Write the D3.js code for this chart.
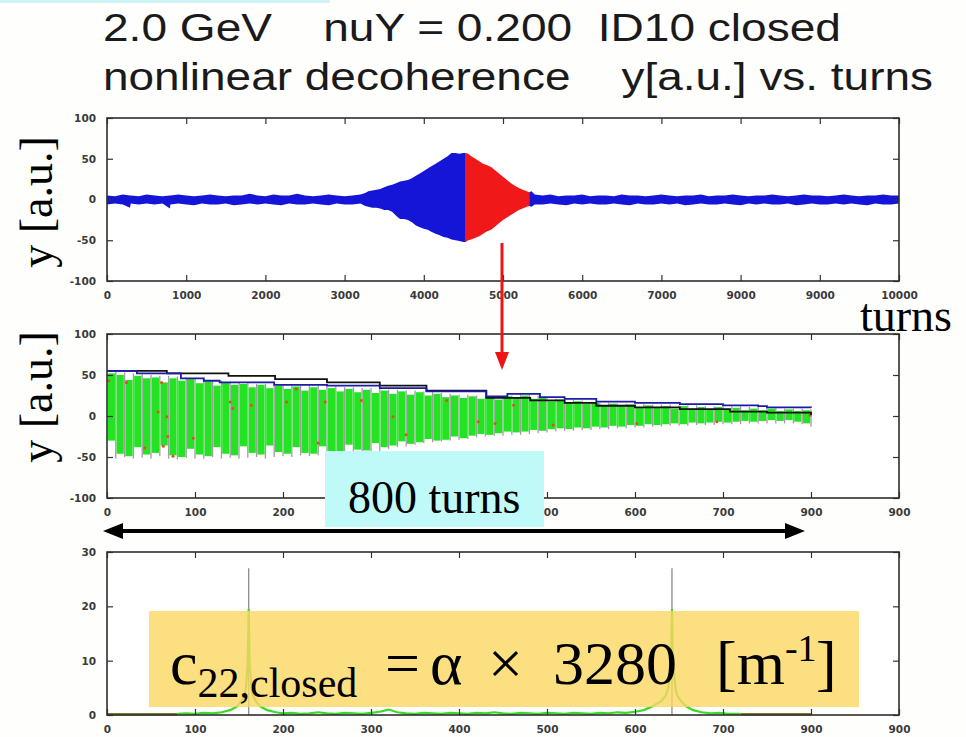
<!DOCTYPE html>
<html>
<head>
<meta charset="utf-8">
<script src="https://cdn.jsdelivr.net/npm/d3@7"></script>
<style>
  html, body { margin: 0; padding: 0; background: #fefefd; }
  svg { display: block; }
  .tick text { font-family: "DejaVu Sans", sans-serif; font-weight: bold; font-size: 10.5px; fill: #3a3a3a; }
  .tick line { stroke: #333; stroke-width: 1.2; }
</style>
</head>
<body>
<svg id="chart" width="966" height="737"></svg>
<script>
// ---------------- data ----------------
const titleLine1 = "2.0 GeV\u00A0\u00A0\u00A0 nuY = 0.200\u00A0 ID10 closed";
const titleLine2 = "nonlinear decoherence\u00A0\u00A0\u00A0 y[a.u.] vs. turns";
const yLabel = "y [a.u.]";
const turnsLabel = "turns";
const spanLabel = "800 turns";

// top panel: tick values and their printed labels
const topXTicks  = [0, 1000, 2000, 3000, 4000, 5000, 6000, 7000, 8000, 9000, 10000];
const topXLabels = ["0", "1000", "2000", "3000", "4000", "5000", "6000", "7000", "9000", "9000", "10000"];
const auYTicks   = [-100, -50, 0, 50, 100];
const auYLabels  = ["-100", "-50", "0", "50", "100"];

// middle / bottom panels: tick values and labels
const turnXTicks  = [0, 100, 200, 300, 400, 500, 600, 700, 800, 900];
const turnXLabels = ["0", "100", "200", "300", "400", "500", "600", "700", "900", "900"];
// in the middle panel the 300 and 400 labels sit under the span box
const midXLabels  = ["0", "100", "200", "", "", "500", "600", "700", "900", "900"];
const specYTicks  = [0, 10, 20, 30];
const specYLabels = ["0", "10", "20", "30"];

// top panel: oscillation band (upper / lower edge) before the kick region
const bandATurns = [0, 100, 200, 290, 300, 400, 500, 600, 700, 795, 800,
  900, 1000, 1100, 1200, 1300, 1400, 1500, 1600, 1700, 1800, 1900, 2000,
  2100, 2200, 2300, 2400, 2500, 2600, 2700, 2800, 2900, 3000, 3100, 3200,
  3260, 3300, 3350, 3400, 3450, 3500, 3550, 3600, 3650, 3700, 3750, 3800,
  3850, 3900, 3950, 4000, 4050, 4100, 4150, 4200, 4250, 4300, 4350, 4400,
  4450, 4500, 4530];
const bandAHi = [5, 4, 6, 5, 5, 4, 6, 5, 4, 5, 5,
  6, 5, 4, 5, 6, 5, 4, 5, 5, 7, 5, 4,
  6, 5, 5, 7, 5, 4, 5, 6, 5, 4, 5, 6,
  8, 10, 11, 12, 13, 15, 17, 18, 20, 22, 23, 24,
  26, 29, 32, 35, 38, 41, 44, 47, 50, 53, 57, 57,
  56, 57, 57];
const bandALo = [-6, -5, -6, -10, -5, -6, -5, -6, -5, -11, -6,
  -5, -6, -7, -5, -6, -6, -5, -7, -6, -5, -6, -5,
  -6, -7, -5, -6, -6, -5, -6, -7, -5, -6, -6, -5,
  -8, -9, -10, -10, -11, -13, -13, -15, -20, -24, -24, -25,
  -28, -32, -34, -36, -37, -40, -42, -44, -46, -47, -49, -50,
  -51, -52, -52];

// top panel: the selected 800-turn window (drawn in red)
const bandRTurns = [4530, 4560, 4600, 4650, 4700, 4750, 4800, 4850, 4900,
  4950, 5000, 5050, 5100, 5150, 5200, 5250, 5300, 5330];
const bandRHi = [57, 56, 53, 50, 47, 44, 42, 40, 36, 32, 28, 24, 20, 17, 14, 12, 10, 9];
const bandRLo = [-52, -50, -49, -47, -45, -42, -39, -37, -33, -29, -25, -22, -19, -16, -13, -11, -9, -8];

// top panel: band after the window
const bandBTurns = [5330, 5360, 5400,
  5500, 5600, 5700, 5800, 5900, 6000, 6100, 6200, 6300, 6400,
  6500, 6600, 6700, 6800, 6900, 7000, 7100, 7200, 7300, 7400,
  7500, 7600, 7700, 7800, 7900, 8000, 8100, 8200, 8300, 8400,
  8500, 8600, 8700, 8800, 8900, 9000, 9100, 9200, 9300, 9400,
  9500, 9600, 9700, 9800, 9900, 10000];
const bandBHi = [9, 10, 6,
  5, 6, 4, 5, 5, 6, 4, 5, 5, 4,
  6, 5, 5, 4, 5, 6, 5, 4, 5, 5,
  6, 4, 5, 5, 6, 5, 4, 5, 5, 6,
  5, 4, 5, 6, 5, 5, 4, 5, 6, 5,
  4, 5, 5, 6, 5, 5];
const bandBLo = [-8, -9, -6,
  -6, -5, -6, -7, -5, -6, -5, -6, -6, -5,
  -6, -7, -5, -6, -6, -5, -6, -5, -7, -6,
  -5, -6, -6, -5, -6, -7, -5, -6, -5, -6,
  -6, -5, -7, -6, -5, -6, -6, -5, -6, -5,
  -6, -7, -5, -6, -6, -5];

// middle panel: turn-by-turn signal, one entry per 10-turn group
const midTurns = [5, 15, 25, 35, 45, 55, 65, 75, 85, 95,
  105, 115, 125, 135, 145, 155, 165, 175, 185, 195,
  205, 215, 225, 235, 245, 255, 265, 275, 285, 295,
  305, 315, 325, 335, 345, 355, 365, 375, 385, 395,
  405, 415, 425, 435, 445, 455, 465, 475, 485, 495,
  505, 515, 525, 535, 545, 555, 565, 575, 585, 595,
  605, 615, 625, 635, 645, 655, 665, 675, 685, 695,
  705, 715, 725, 735, 745, 755, 765, 775, 785, 795];
const greenHi = [52, 50, 44, 49, 46, 47, 41, 46, 43, 45,
  40, 42, 37, 41, 38, 39, 35, 38, 34, 37,
  33, 36, 31, 35, 32, 34, 30, 33, 29, 32,
  28, 31, 27, 30, 26, 29, 25, 27, 23, 25,
  22, 24, 21, 23, 20, 24, 22, 25, 21, 22,
  18, 20, 17, 18, 15, 16, 13, 15, 12, 14,
  11, 13, 10, 12, 9, 12, 9, 11, 8, 11,
  8, 10, 7, 9, 7, 9, 6, 8, 6, 7];
const greenLo = [-30, -46, -49, -38, -47, -45, -36, -48, -50, -40,
  -47, -49, -38, -46, -48, -37, -45, -47, -36, -44,
  -46, -38, -45, -46, -37, -43, -44, -35, -41, -42,
  -33, -38, -36, -31, -34, -32, -28, -30, -29, -25,
  -27, -24, -22, -23, -21, -19, -20, -19, -17, -18,
  -16, -15, -16, -14, -15, -13, -14, -12, -13, -11,
  -12, -10, -11, -10, -9, -10, -8, -9, -8, -7,
  -8, -7, -6, -7, -6, -5, -6, -5, -7, -9];
const grayTurns = [10, 20, 30, 40, 50, 60, 70, 80, 90, 100,
  110, 120, 130, 140, 150, 160, 170, 180, 190, 200,
  210, 220, 230, 240, 250, 260, 270, 280, 290, 300,
  310, 320, 330, 340, 350, 360, 370, 380, 390, 400,
  410, 420, 430, 440, 450, 460, 470, 480, 490, 500,
  510, 520, 530, 540, 550, 560, 570, 580, 590, 600,
  610, 620, 630, 640, 650, 660, 670, 680, 690, 700,
  710, 720, 730, 740, 750, 760, 770, 780, 790, 800];
const grayHi = [54, 53, 52, 51, 50, 49, 49, 48, 47, 46,
  45, 43, 43, 42, 41, 40, 39, 39, 38, 38,
  37, 37, 37, 37, 36, 36, 35, 35, 34, 34,
  33, 32, 32, 31, 31, 30, 29, 28, 27, 26,
  26, 25, 24, 24, 23, 25, 26, 26, 25, 23,
  21, 21, 20, 19, 17, 16, 16, 15, 15, 15,
  15, 14, 14, 14, 13, 13, 13, 12, 12, 12,
  12, 12, 11, 11, 11, 10, 9, 9, 9, 8];
const grayLo = [-52, -50, -52, -51, -52, -49, -52, -53, -51, -52,
  -52, -50, -52, -51, -52, -51, -50, -52, -50, -49,
  -50, -48, -49, -48, -47, -47, -46, -44, -45, -43,
  -43, -40, -38, -37, -35, -33, -32, -31, -30, -29,
  -28, -26, -25, -24, -24, -23, -23, -22, -21, -20,
  -19, -18, -18, -17, -17, -16, -16, -15, -15, -14,
  -14, -13, -13, -12, -12, -12, -11, -11, -11, -10,
  -10, -10, -9, -9, -9, -9, -9, -9, -10, -13];

// middle panel: envelope estimates (step lines)
const blueEnvTurns = [0, 34, 84, 110, 128, 190, 250, 310, 363, 431, 455, 492, 520, 556, 600, 651, 700, 740, 750, 800];
const blueEnvVals  = [55, 52, 46, 43, 41, 38, 37, 34, 30, 24, 27, 23, 21, 17.5, 16, 14.5, 13, 12, 10.5, 10];
const blackEnvTurns = [0, 68, 138, 191, 250, 310, 363, 431, 481, 520, 556, 600, 651, 708, 750, 800];
const blackEnvVals  = [55, 52, 49, 45, 41, 37, 31, 22, 19, 16, 12.5, 10.5, 8.4, 5.3, 4, 1.2];

// middle panel: sampled points
const dotTurns = [2, 22, 43, 58, 62, 64, 68, 69, 75, 98, 140, 143, 164, 204, 215, 240, 248, 289, 325, 340, 386, 422, 441, 462, 507, 602, 693, 799];
const dotVals  = [43, 41, -39, 5, 41, -37, -1, -25, -49, -27, 17, 9, 13, 17, 33, -33, 17, 19, -1, -23, 19, -7, -9, 13, -11, -9, -7, 1];

// bottom panel: amplitude spectrum
const specTurns = [80, 90, 100, 110, 120, 130, 140, 148, 153, 156, 158, 160, 161, 162, 164, 166, 169, 174, 182, 192,
  200, 210, 220, 230, 240, 250, 260, 270, 280, 290, 300, 310, 320, 330, 340, 350, 360, 370, 380, 390,
  400, 410, 420, 430, 440, 450, 460, 470, 480, 490, 500, 510, 520, 530, 540, 550, 560, 570, 580, 590,
  600, 610, 620, 630, 635, 638, 641, 642, 643, 646, 648, 652, 658, 666, 676, 686, 696, 706, 720];
const specVals = [0.2, 0.3, 0.2, 0.4, 0.3, 0.5, 0.9, 1.6, 2.6, 3.6, 5, 10, 19.5, 10, 5, 3.6, 2.6, 1.6, 0.9, 0.5,
  0.3, 0.4, 0.2, 0.3, 0.5, 0.3, 0.2, 0.4, 0.3, 0.2, 0.4, 0.6, 1.0, 0.5, 0.3, 0.2, 0.4, 0.3, 0.2, 0.4,
  0.3, 0.2, 0.4, 0.3, 0.5, 0.3, 0.2, 0.4, 0.3, 0.2, 0.4, 0.3, 0.2, 0.4, 0.3, 0.2, 0.4, 0.3, 0.5, 0.4,
  0.6, 0.9, 1.6, 2.6, 3.6, 5, 10, 19.5, 10, 5, 3.6, 2.6, 1.6, 0.9, 0.5, 0.3, 0.4, 0.2, 0.2];
const spikeTurns = [161, 642];
const spikeVals  = [27, 27];
const floorSegments = [[0, 80], [720, 800]];

// ---------------- drawing ----------------
const svg = d3.select("#chart");
const zip = (ts, a, b) => ts.map((t, i) => ({ t, hi: a[i], lo: b[i] }));

// faint strip along the upper edge of the slide
svg.append("rect").attr("x", 0).attr("y", 0).attr("width", 330).attr("height", 3).attr("fill", "#cdf3f6");

// title: two rows in a wide sans face
const tFont = "'Liberation Sans', Arial, sans-serif";
[[titleLine1, 41, 738], [titleLine2, 90, 830]].forEach(([s, base, len]) => {
  svg.append("text").attr("x", 103).attr("y", base)
    .attr("textLength", len).attr("lengthAdjust", "spacingAndGlyphs")
    .attr("font-family", tFont).attr("font-size", 38).attr("fill", "#1a1a1a").text(s);
});

// panel frames + axes
function makePanel(xDomain, yDomain, box, xTicks, xLabels, yTicks, yLabels) {
  const x = d3.scaleLinear().domain(xDomain).range([box.x0, box.x1]);
  const y = d3.scaleLinear().domain(yDomain).range([box.y1, box.y0]);
  const g = svg.append("g");
  g.append("rect").attr("x", box.x0).attr("y", box.y0)
    .attr("width", box.x1 - box.x0).attr("height", box.y1 - box.y0).attr("fill", "#ffffff");
  const axes = svg.append("g");
  const strip = sel => sel.select(".domain").remove();
  axes.append("g").attr("transform", `translate(0,${box.y1})`)
    .call(d3.axisBottom(x).tickValues(xTicks).tickFormat((d, i) => xLabels[i]).tickSizeInner(-6).tickSizeOuter(0).tickPadding(11)).call(strip);
  axes.append("g").attr("transform", `translate(0,${box.y0})`)
    .call(d3.axisTop(x).tickValues(xTicks).tickFormat("").tickSizeInner(-6).tickSizeOuter(0)).call(strip);
  axes.append("g").attr("transform", `translate(${box.x0},0)`)
    .call(d3.axisLeft(y).tickValues(yTicks).tickFormat((d, i) => yLabels[i]).tickSizeInner(-6).tickSizeOuter(0).tickPadding(11)).call(strip);
  axes.append("g").attr("transform", `translate(${box.x1},0)`)
    .call(d3.axisRight(y).tickValues(yTicks).tickFormat("").tickSizeInner(-6).tickSizeOuter(0)).call(strip);
  return { x, y, g, axes, box };
}
function frame(p) {
  p.axes.append("rect").attr("x", p.box.x0).attr("y", p.box.y0)
    .attr("width", p.box.x1 - p.box.x0).attr("height", p.box.y1 - p.box.y0)
    .attr("fill", "none").attr("stroke", "#2e2e2e").attr("stroke-width", 1.6);
}

// ---- top panel ----
const topP = makePanel([0, 10000], [-100, 100], { x0: 107, x1: 899, y0: 118, y1: 281 },
  topXTicks, topXLabels, auYTicks, auYLabels);
const topArea = d3.area().x(d => topP.x(d.t)).y0(d => topP.y(d.lo)).y1(d => topP.y(d.hi));
topP.g.append("path").datum(zip(bandATurns, bandAHi, bandALo)).attr("d", topArea).attr("fill", "#1515d8");
topP.g.append("path").datum(zip(bandBTurns, bandBHi, bandBLo)).attr("d", topArea).attr("fill", "#1515d8");
topP.g.append("path").datum(zip(bandRTurns, bandRHi, bandRLo)).attr("d", topArea).attr("fill", "#f01818");
frame(topP);

// ---- middle panel ----
const midP = makePanel([0, 900], [-100, 100], { x0: 107, x1: 899, y0: 334, y1: 498 },
  turnXTicks, midXLabels, auYTicks, auYLabels);
midP.g.append("g").selectAll("line").data(grayTurns).join("line")
  .attr("x1", d => midP.x(d)).attr("x2", d => midP.x(d))
  .attr("y1", (d, i) => midP.y(grayHi[i])).attr("y2", (d, i) => midP.y(grayLo[i]))
  .attr("stroke", "#a899a8").attr("stroke-width", 1.3);
midP.g.append("g").selectAll("rect").data(midTurns).join("rect")
  .attr("x", d => midP.x(d - 4.1)).attr("width", d => midP.x(d + 4.1) - midP.x(d - 4.1))
  .attr("y", (d, i) => midP.y(greenHi[i])).attr("height", (d, i) => midP.y(greenLo[i]) - midP.y(greenHi[i]))
  .attr("fill", "#22e422");
midP.g.append("g").selectAll("circle").data(dotTurns).join("circle")
  .attr("cx", d => midP.x(d)).attr("cy", (d, i) => midP.y(dotVals[i])).attr("r", 1.5)
  .attr("fill", "#e0501c");
const stepLine = d3.line().curve(d3.curveStepAfter).x(d => midP.x(d[0])).y(d => midP.y(d[1]));
midP.g.append("path").datum(blackEnvTurns.map((t, i) => [t, blackEnvVals[i]]))
  .attr("d", stepLine).attr("fill", "none").attr("stroke", "#111").attr("stroke-width", 1.8);
midP.g.append("path").datum(blueEnvTurns.map((t, i) => [t, blueEnvVals[i]]))
  .attr("d", stepLine).attr("fill", "none").attr("stroke", "#1c1ca4").attr("stroke-width", 1.8);
frame(midP);

// ---- bottom panel ----
const botP = makePanel([0, 900], [0, 30], { x0: 107, x1: 899, y0: 552, y1: 715 },
  turnXTicks, turnXLabels, specYTicks, specYLabels);
botP.g.append("g").selectAll("line").data(floorSegments).join("line")
  .attr("x1", d => botP.x(d[0])).attr("x2", d => botP.x(d[1]))
  .attr("y1", botP.y(0.15)).attr("y2", botP.y(0.15))
  .attr("stroke", "#7c7c24").attr("stroke-width", 2.4);
botP.g.append("g").selectAll("line").data(spikeTurns).join("line")
  .attr("x1", d => botP.x(d)).attr("x2", d => botP.x(d))
  .attr("y1", botP.y(0)).attr("y2", (d, i) => botP.y(spikeVals[i]))
  .attr("stroke", "#8c8c8c").attr("stroke-width", 1.3);
botP.g.append("path").datum(specTurns.map((t, i) => [t, specVals[i]]))
  .attr("d", d3.line().x(d => botP.x(d[0])).y(d => botP.y(d[1])))
  .attr("fill", "none").attr("stroke", "#3cd82a").attr("stroke-width", 2.2);
frame(botP);

// ---- annotations ----
const serif = "'Liberation Serif', 'Times New Roman', serif";

// y-axis titles
[[52, 202], [52, 397]].forEach(([bx, cy]) => {
  svg.append("text").attr("transform", `translate(${bx},${cy}) rotate(-90)`)
    .attr("text-anchor", "middle").attr("font-family", serif).attr("font-size", 46)
    .attr("fill", "#000").text(yLabel);
});
svg.append("text").attr("x", 860).attr("y", 331).attr("font-family", serif)
  .attr("font-size", 46).attr("fill", "#000").text(turnsLabel);

// red arrow from the selected window to the zoomed panel
svg.append("line").attr("x1", 502).attr("x2", 502).attr("y1", 243).attr("y2", 354)
  .attr("stroke", "#ee1414").attr("stroke-width", 3);
svg.append("path").attr("d", "M495,352 L509,352 L502,370 Z").attr("fill", "#ee1414");

// span label box
svg.append("rect").attr("x", 325).attr("y", 451).attr("width", 219).attr("height", 76).attr("fill", "#bffaf9");
svg.append("text").attr("x", 348).attr("y", 513).attr("font-family", serif).attr("font-size", 46)
  .attr("fill", "#000").text(spanLabel);

// double-headed span arrow
svg.append("line").attr("x1", 118).attr("x2", 790).attr("y1", 531).attr("y2", 531)
  .attr("stroke", "#000").attr("stroke-width", 4);
svg.append("path").attr("d", "M103,531 L123,523 L123,539 Z").attr("fill", "#000");
svg.append("path").attr("d", "M805,531 L785,523 L785,539 Z").attr("fill", "#000");

// coefficient box
svg.append("rect").attr("x", 149).attr("y", 611).attr("width", 710).attr("height", 96)
  .attr("fill", "#fbd760").attr("fill-opacity", 0.8);
const ft = svg.append("text").attr("y", 684).attr("font-family", serif)
  .attr("fill", "#000").attr("font-size", 62);
ft.append("tspan").attr("x", 170).text("c");
ft.append("tspan").attr("font-size", 42).attr("dy", 13).text("22,closed");
ft.append("tspan").attr("x", 385).attr("font-size", 62).attr("dy", -13).text("=");
ft.append("tspan").attr("x", 430).text("\u03B1");
ft.append("tspan").attr("x", 488).text("\u00D7");
ft.append("tspan").attr("x", 553).text("3280");
ft.append("tspan").attr("x", 716).text("[m");
ft.append("tspan").attr("font-size", 38).attr("dy", -23).text("-1");
ft.append("tspan").attr("x", 816).attr("font-size", 62).attr("dy", 23).text("]");
</script>
</body>
</html>
